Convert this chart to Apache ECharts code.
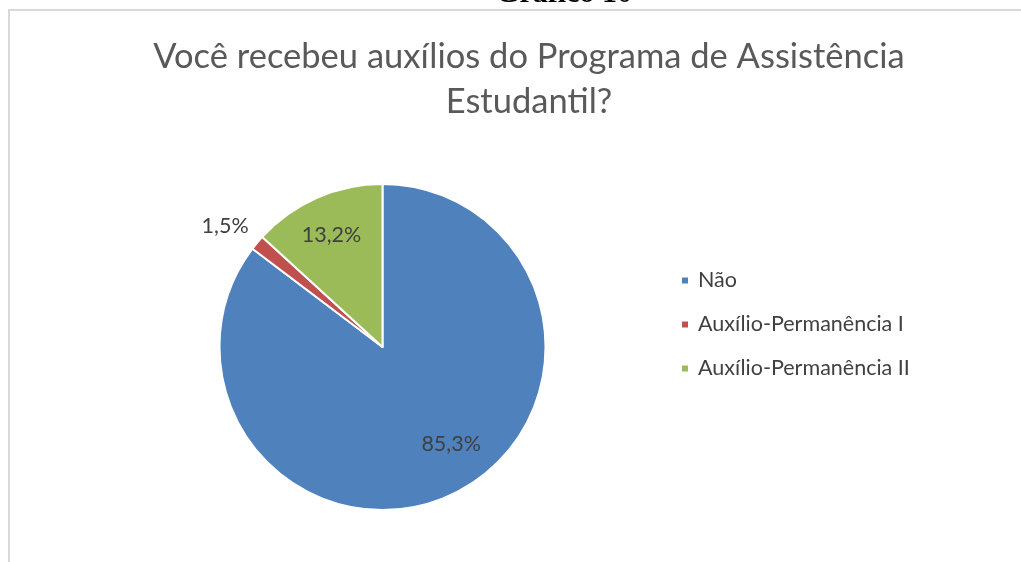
<!DOCTYPE html>
<html>
<head>
<meta charset="utf-8">
<script src="https://cdn.jsdelivr.net/npm/echarts@6/dist/echarts.min.js"></script>
<style>
  html, body { margin: 0; padding: 0; background: #fff; }
  #main { width: 1021px; height: 562px; }
</style>
</head>
<body>
<div id="main"></div>
<script>
  // dados do gráfico
  var categorias = ['Não', 'Auxílio-Permanência I', 'Auxílio-Permanência II'];
  var valores = [85.3, 1.5, 13.2];
  var cores = ['#4F81BD', '#C0504D', '#9BBB59'];
  var titulo = 'Você recebeu auxílios do Programa de Assistência\nEstudantil?';

  // deslocamento dos rótulos (posição "melhor ajuste" do Excel)
  var ajusteRotulos = [[31, 21], [1, -13], [-17, -35]];

  var myChart = echarts.init(document.getElementById('main'));

  var option = {
    backgroundColor: '#fff',
    animation: false,
    title: {
      text: titulo,
      left: 524,
      textAlign: 'center',
      top: 29,
      textStyle: {
        fontFamily: 'Lato',
        fontWeight: 'normal',
        fontSize: 34.5,
        lineHeight: 45,
        color: '#595959'
      }
    },
    graphic: [
      {
        type: 'rect',
        shape: { x: 9, y: 10, width: 1040, height: 600 },
        style: { fill: 'none', stroke: '#d9d9d9', lineWidth: 2 },
        silent: true
      },
      {
        type: 'text',
        x: 564,
        y: 9,
        style: {
          text: 'Gráfico 10',
          font: 'bold 30px "Liberation Serif"',
          fill: '#000',
          align: 'center',
          verticalAlign: 'bottom'
        }
      }
    ],
    legend: {
      orient: 'vertical',
      left: 675,
      top: 263,
      icon: 'rect',
      itemWidth: 8,
      itemHeight: 8,
      itemGap: 19,
      data: categorias,
      textStyle: {
        fontFamily: 'Lato',
        fontSize: 21.5,
        lineHeight: 25,
        color: '#404040',
        padding: [0, 0, 0, 4]
      }
    },
    series: [{
      type: 'pie',
      center: [382.5, 347],
      radius: 163,
      startAngle: 90,
      clockwise: true,
      avoidLabelOverlap: false,
      itemStyle: { borderColor: '#fff', borderWidth: 2 },
      label: {
        show: true,
        position: 'inside',
        fontFamily: 'Lato',
        fontSize: 21.5,
        color: '#404040',
        formatter: function (p) {
          return p.value.toFixed(1).replace('.', ',') + '%';
        }
      },
      labelLine: { show: false },
      labelLayout: function (p) {
        var d = ajusteRotulos[p.dataIndex];
        return { dx: d[0], dy: d[1] };
      },
      emphasis: { disabled: true },
      data: categorias.map(function (nome, i) {
        var item = { name: nome, value: valores[i], itemStyle: { color: cores[i] } };
        if (i === 1) {
          item.label = { position: 'outside' };
          item.labelLine = { show: false, length: 6, length2: 0 };
        }
        return item;
      })
    }]
  };

  myChart.setOption(option);
</script>
</body>
</html>
